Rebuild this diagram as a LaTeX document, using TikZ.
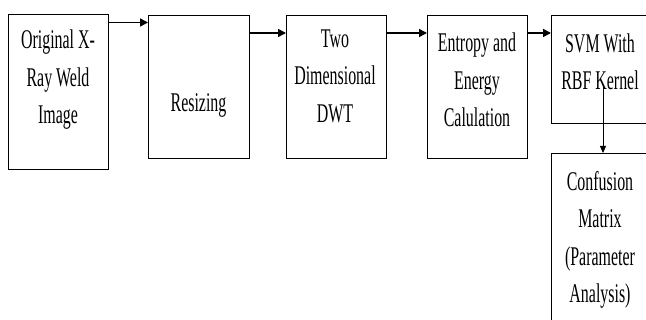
\documentclass[tikz,border=0pt]{standalone}
\usepackage{fontspec}
\setmainfont{Liberation Serif}[FakeStretch=0.59]
\usetikzlibrary{arrows.meta}
\begin{document}
\begin{tikzpicture}[x=1pt,y=-1pt,
  box/.style={draw, line width=1.3pt, inner sep=0pt, anchor=north west},
  lbl/.style={font=\fontsize{27}{37.5}\selectfont, align=center, inner sep=0pt},
  arr/.style={line width=1.5pt, -{Triangle[length=8pt,width=8pt]}},
  thinarr/.style={line width=0.9pt, -{Triangle[length=7pt,width=6pt]}}]
\clip (0,0) rectangle (646,320);
\fill[white] (0,0) rectangle (646,320);
% boxes
\node[box, minimum width=100pt, minimum height=155pt] (b1) at (8,14) {};
\node[box, minimum width=101pt, minimum height=143pt] (b2) at (148,15) {};
\node[box, minimum width=100pt, minimum height=143pt] (b3) at (286,15) {};
\node[box, minimum width=100pt, minimum height=143pt] (b4) at (427,15) {};
\node[box, minimum width=110pt, minimum height=108pt] (b5) at (551,15) {};
\node[box, line width=1pt, minimum width=110pt, minimum height=180pt] (b6) at (551,153) {};
% labels
\node[lbl] (t1) at (58,80) {Original X-\\Ray Weld\\Image};
\node[lbl] (t2) at (198.5,105) {Resizing};
\node[lbl] (t3) at (335,76) {Two\\Dimensional\\DWT};
\node[lbl] (t4) at (477,80) {Entropy and\\Energy\\Calulation};
\node[lbl] (t5) at (600,62) {SVM With\\RBF Kernel};
\node[lbl] (t6) at (600,240) {Confusion\\Matrix\\(Parameter\\Analysis)};
% connectors
\draw[arr] ([yshift=-8.5pt]b1.north east) -- ([yshift=-8.5pt]b1.north east -| b2.west);
\draw[arr] ([yshift=-18pt]b2.north east) -- ([yshift=-18pt]b2.north east -| b3.west);
\draw[arr] ([yshift=-18pt]b3.north east) -- ([yshift=-18pt]b3.north east -| b4.west);
\draw[arr] ([yshift=-18pt]b4.north east) -- ([yshift=-18pt]b4.north east -| b5.west);
\coordinate (k) at (603,87);
\draw[thinarr] (k) -- (k |- b6.north);
\end{tikzpicture}
\end{document}
